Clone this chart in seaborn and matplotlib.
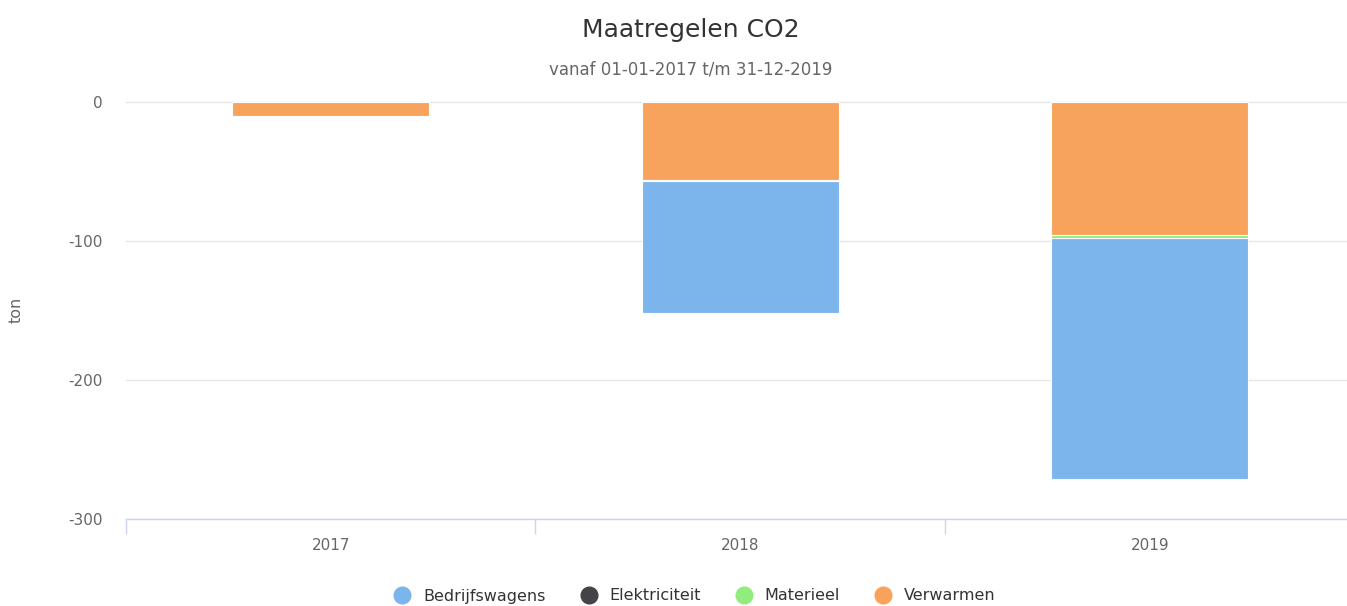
import matplotlib
matplotlib.use('Agg')
import matplotlib.pyplot as plt
from matplotlib.lines import Line2D
import seaborn as sns
import pandas as pd

years = ['2017', '2018', '2019']
series = ['Bedrijfswagens', 'Elektriciteit', 'Materieel', 'Verwarmen']
colors = ['#7cb5ec', '#434348', '#90ed7d', '#f7a35c']
bedrijfswagens = [0, -95, -173]
elektriciteit = [0, 0, 0]
materieel = [0, -1, -2]
verwarmen = [-10, -56, -96]

sns.set_style('white')
plt.rcParams['font.family'] = ['DejaVu Sans']

W, H = 1347, 606
fig = plt.figure(figsize=(W / 100, H / 100), dpi=100)
ax = fig.add_axes([126 / W, (H - 519) / H, 1228.5 / W, 418 / H])

# stacked from zero outward: Verwarmen, Materieel, Elektriciteit, Bedrijfswagens
values = {'Bedrijfswagens': bedrijfswagens, 'Elektriciteit': elektriciteit,
          'Materieel': materieel, 'Verwarmen': verwarmen}
order = ['Verwarmen', 'Materieel', 'Elektriciteit', 'Bedrijfswagens']
cum = {}
run = [0, 0, 0]
for s in order:
    run = [a + b for a, b in zip(run, values[s])]
    cum[s] = list(run)

for s in reversed(order):
    df = pd.DataFrame({'jaar': years, 'ton': cum[s]})
    sns.barplot(data=df, x='jaar', y='ton', color=colors[series.index(s)],
                width=0.48, edgecolor='white', linewidth=0.8,
                saturation=1, ax=ax, zorder=3)

ax.set_ylim(-300, 0.6)
ax.set_xlim(-0.5, 2.5)
ax.set_yticks([0, -100, -200, -300])
ax.set_yticklabels(['0', '-100', '-200', '-300'])
ax.grid(axis='y', color='#e6e6e6', linewidth=1, zorder=0)
ax.grid(axis='x', visible=False)
ax.set_axisbelow(True)
for sp in ['top', 'right', 'left']:
    ax.spines[sp].set_visible(False)
ax.spines['bottom'].set_color('#ccd6eb')
ax.spines['bottom'].set_linewidth(1)
ax.spines['bottom'].set_zorder(4)

ax.tick_params(axis='y', length=0, pad=17, labelsize=11, labelcolor='#666666')
ax.tick_params(axis='x', which='major', bottom=True, length=0, pad=14,
               labelsize=11, labelcolor='#666666')
ax.set_xticks([-0.5, 0.5, 1.5, 2.5], minor=True)
ax.tick_params(axis='x', which='minor', bottom=True, length=11, width=1,
               color='#ccd6eb', direction='out')

ax.set_xlabel('')
ax.set_ylabel('ton', fontsize=11.5, color='#666666')
ax.yaxis.set_label_coords(-0.083, 0.5)

fig.text(691 / W, 1 - 30 / H, 'Maatregelen CO2', ha='center', va='center',
         fontsize=18, color='#333333')
fig.text(691 / W, 1 - 70 / H, 'vanaf 01-01-2017 t/m 31-12-2019', ha='center',
         va='center', fontsize=12, color='#666666')

handles = [Line2D([0], [0], marker='o', linestyle='', markersize=12,
                  markerfacecolor=c, markeredgecolor=c) for c in colors]
fig.legend(handles, series, loc='center', bbox_to_anchor=(691 / W, 1 - 596 / H),
           ncol=4, frameon=False, fontsize=11.5, handletextpad=0.3,
           columnspacing=1.7, labelcolor='#333333')

fig.savefig('out.png', dpi=100)
